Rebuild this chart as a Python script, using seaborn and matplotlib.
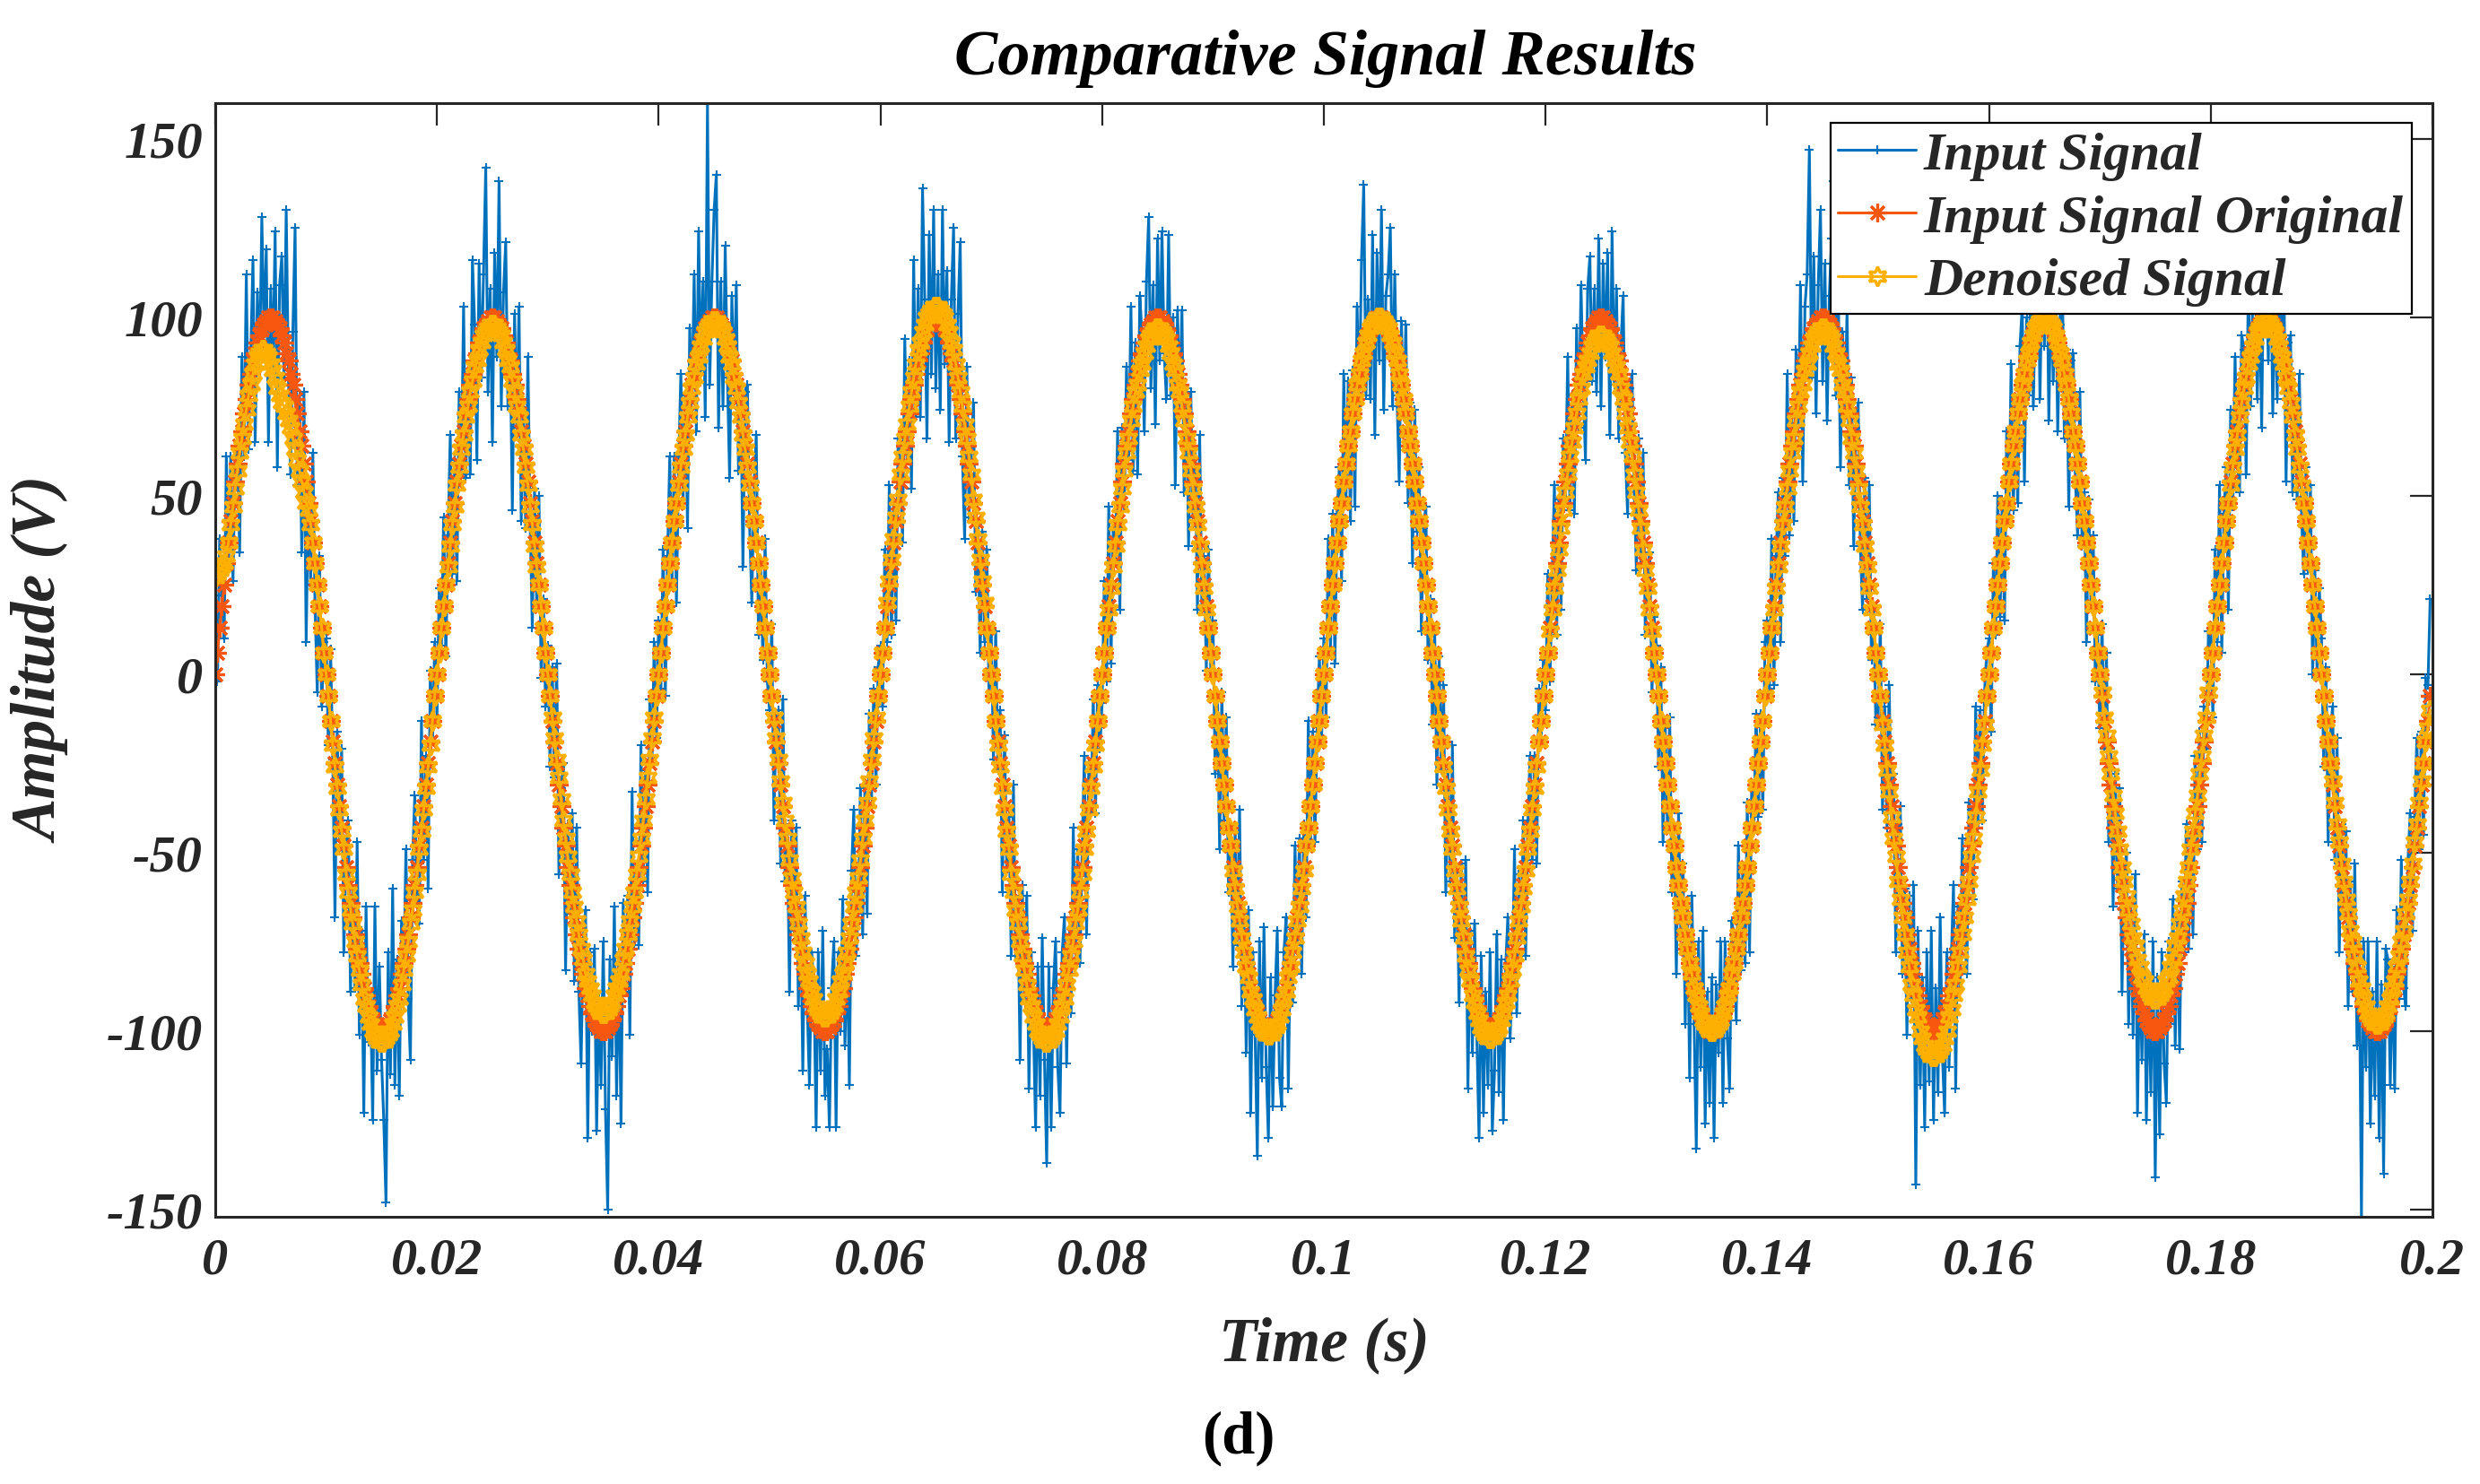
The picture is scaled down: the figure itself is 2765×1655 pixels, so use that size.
import numpy as np
import pandas as pd
import matplotlib
matplotlib.use("Agg")
import matplotlib.pyplot as plt
from matplotlib.font_manager import FontProperties
import seaborn as sns

# ---------------- data ----------------
sample_rate = 5000  # samples per second, 1000 samples shown (0 .. 0.1998 s)

input_signal = [
    12, -2, 38, 22, 10, 61, 31, 61, 26, 63, 63, 34, 89, 61, 112, 63, 90, 116, 65, 107, 86, 128, 95, 119, 65, 108, 86, 124, 58, 109, 117, 83, 130, 83, 56, 96, 125, 53, 78, 34, 79, 9, 53, 25, 62, 19, -5, 33, -9, 9,
    10, -20, 7, -24, -68, -16, -45, -21, -78, -49, -41, -89, -60, -88, -47, -101, -72, -123, -65, -103, -89, -125, -65, -111, -82, -108, -125, -148, -78, -112, -60, -115, -80, -118, -69, -86, -49, -91, -108, -52, -34, -64, -70, -13, -52, -23, -60, 1, -19, 9,
    -12, 24, 8, 44, 5, 39, 67, 28, 60, 26, 79, 56, 103, 55, 82, 56, 116, 98, 60, 115, 83, 112, 142, 79, 108, 65, 118, 89, 138, 75, 107, 121, 75, 93, 46, 101, 69, 103, 43, 74, 41, 89, 43, 13, 52, 19, 50, -1, 21, -9,
    8, -26, 2, -29, 3, -56, -32, -25, -83, -42, -67, -39, -86, -43, -89, -109, -74, -66, -130, -78, -100, -77, -128, -91, -115, -75, -122, -150, -80, -107, -65, -118, -78, -126, -64, -89, -62, -101, -33, -76, -54, -76, -20, -58, -27, -61, -7, -24, 9, -18,
    15, -4, 35, -6, 33, 61, 25, 61, 20, 59, 84, 49, 78, 41, 97, 76, 112, 68, 124, 85, 110, 72, 160, 81, 110, 130, 140, 69, 110, 75, 120, 83, 55, 106, 79, 109, 57, 81, 30, 79, 81, 42, 20, 53, 67, 11, 30, 4, 38, -2,
    -10, 14, -41, -11, -10, -53, -7, -58, -43, -89, -41, -72, -43, -93, -65, -111, -62, -93, -115, -78, -87, -127, -78, -111, -72, -118, -105, -127, -88, -75, -127, -78, -100, -63, -104, -76, -115, -55, -38, -79, -67, -32, -73, -31, -67, -11, -35, -4, -31, 2,
    8, -9, 35, 9, 53, 11, 49, 15, 66, 59, 37, 94, 60, 88, 52, 116, 72, 108, 72, 136, 105, 66, 123, 84, 130, 80, 112, 74, 130, 87, 113, 65, 105, 125, 66, 101, 121, 61, 38, 86, 44, 64, 76, 23, 42, 6, 40, 9, 35, -6,
    12, -24, 12, -27, -10, -61, -17, -55, -40, -79, -31, -79, -63, -108, -59, -91, -62, -116, -78, -98, -127, -82, -118, -74, -108, -137, -82, -127, -88, -75, -110, -123, -78, -68, -109, -73, -95, -43, -78, -49, -81, -49, -23, -73, -25, -39, -7, -39, -3, -21,
    -8, 26, -2, 47, 3, 41, 32, 68, 18, 69, 47, 86, 60, 103, 57, 93, 56, 106, 95, 68, 110, 128, 80, 109, 70, 122, 88, 124, 90, 77, 123, 78, 100, 53, 102, 76, 102, 51, 80, 36, 79, 44, 63, 18, 67, 19, 33, 1, 35, 1,
    15, -28, -5, -49, -5, -41, -12, -61, -43, -82, -44, -76, -38, -93, -67, -106, -66, -123, -78, -101, -135, -75, -113, -71, -110, -130, -85, -121, -90, -72, -113, -121, -78, -68, -116, -71, -92, -48, -76, -46, -84, -42, -68, -13, -47, -16, -47, -14, 5, -18,
    10, -12, 38, 7, 45, 3, 45, 58, 26, 84, 49, 82, 43, 85, 47, 103, 76, 116, 137, 78, 105, 77, 123, 67, 118, 88, 130, 74, 106, 112, 125, 75, 112, 78, 54, 99, 72, 98, 48, 76, 31, 74, 40, 58, 12, 41, 47, 4, 21, -14,
    12, -31, 5, -27, -3, -61, -27, -58, -20, -74, -54, -92, -53, -83, -52, -116, -72, -106, -70, -101, -130, -79, -123, -89, -115, -78, -128, -111, -73, -117, -80, -125, -82, -68, -102, -86, -49, -95, -56, -74, -41, -79, -43, -23, -52, -23, -53, -4, -18, 4,
    -10, 28, -2, 27, 53, 11, 49, 18, 66, 49, 89, 46, 78, 45, 97, 69, 109, 80, 60, 108, 117, 82, 108, 79, 122, 75, 115, 89, 118, 67, 124, 81, 108, 66, 92, 106, 62, 45, 80, 84, 51, 29, 66, 31, 62, 11, 30, 34, -5, 16,
    8, -26, 2, -47, -15, -43, -12, -61, -43, -84, -39, -72, -53, -98, -65, -113, -62, -98, -133, -75, -110, -72, -126, -89, -120, -85, -130, -87, -106, -75, -120, -75, -102, -116, -69, -73, -97, -48, -83, -54, -81, -36, -78, -31, -42, -11, -40, -11, -38, 9,
    15, -4, 38, -3, 33, 51, 9, 55, 33, 84, 39, 74, 43, 91, 69, 109, 54, 103, 112, 147, 83, 117, 73, 109, 130, 82, 115, 71, 106, 122, 138, 78, 110, 58, 96, 73, 102, 53, 83, 36, 69, 76, 36, 18, 55, 21, 53, 4, 18, -14,
    -12, 14, -38, -9, -43, -3, -45, -28, -78, -42, -37, -84, -60, -101, -62, -91, -59, -143, -72, -115, -85, -127, -78, -114, -72, -125, -88, -117, -68, -107, -123, -78, -110, -80, -59, -116, -65, -88, -46, -72, -84, -36, -38, -63, -9, -43, -10, -41, -5, 6,
    10, -16, 31, 11, 50, 16, 49, 15, 68, 44, 87, 46, 76, 48, 92, 103, 54, 100, 78, 118, 75, 107, 128, 77, 115, 92, 125, 71, 110, 82, 115, 68, 98, 116, 66, 91, 47, 88, 90, 54, 39, 79, 36, 51, 9, 49, 20, 39, -2, 11,
    -15, 14, -21, 6, -47, -21, -65, -28, -60, -32, -89, -56, -50, -98, -65, -101, -56, -123, -80, -108, -73, -125, -86, -117, -75, -141, -85, -129, -78, -109, -120, -75, -98, -63, -104, -69, -105, -58, -78, -42, -77, -46, -73, -23, -49, -16, -47, -9, -21, 12,
    12, -12, 35, 9, 53, 6, 45, 58, 18, 74, 47, 89, 60, 51, 95, 91, 56, 110, 75, 105, 120, 77, 106, 69, 122, 115, 88, 123, 73, 107, 77, 113, 82, 113, 54, 93, 95, 51, 76, 49, 84, 44, 28, 58, 29, 53, 0, 29, 1, 24,
    10, -26, 2, -47, -17, -9, -52, -18, -78, -42, -67, -44, -93, -58, -89, -53, -104, -78, -152, -75, -110, -75, -126, -89, -118, -75, -130, -87, -140, -77, -80, -115, -82, -116, -66, -91, -52, -88, -93, -52, -39, -72, -40, -18, -49, -16, -45, -1, -3, 21,
]

original_signal = [
    0, 6, 13, 19, 25, 31, 37, 43, 48, 54, 59, 64, 68, 73, 77, 81, 84, 88, 90, 93, 95, 97, 98, 99, 100, 100, 100, 99, 98, 97, 95, 93, 90, 88, 84, 81, 77, 73, 68, 64, 59, 54, 48, 43, 37, 31, 25, 19, 13, 6,
    0, -6, -13, -19, -25, -31, -37, -43, -48, -54, -59, -64, -68, -73, -77, -81, -84, -88, -90, -93, -95, -97, -98, -99, -100, -100, -100, -99, -98, -97, -95, -93, -90, -88, -84, -81, -77, -73, -68, -64, -59, -54, -48, -43, -37, -31, -25, -19, -13, -6,
    0, 6, 13, 19, 25, 31, 37, 43, 48, 54, 59, 64, 68, 73, 77, 81, 84, 88, 90, 93, 95, 97, 98, 99, 100, 100, 100, 99, 98, 97, 95, 93, 90, 88, 84, 81, 77, 73, 68, 64, 59, 54, 48, 43, 37, 31, 25, 19, 13, 6,
    0, -6, -13, -19, -25, -31, -37, -43, -48, -54, -59, -64, -68, -73, -77, -81, -84, -88, -90, -93, -95, -97, -98, -99, -100, -100, -100, -99, -98, -97, -95, -93, -90, -88, -84, -81, -77, -73, -68, -64, -59, -54, -48, -43, -37, -31, -25, -19, -13, -6,
    0, 6, 13, 19, 25, 31, 37, 43, 48, 54, 59, 64, 68, 73, 77, 81, 84, 88, 90, 93, 95, 97, 98, 99, 100, 100, 100, 99, 98, 97, 95, 93, 90, 88, 84, 81, 77, 73, 68, 64, 59, 54, 48, 43, 37, 31, 25, 19, 13, 6,
    0, -6, -13, -19, -25, -31, -37, -43, -48, -54, -59, -64, -68, -73, -77, -81, -84, -88, -90, -93, -95, -97, -98, -99, -100, -100, -100, -99, -98, -97, -95, -93, -90, -88, -84, -81, -77, -73, -68, -64, -59, -54, -48, -43, -37, -31, -25, -19, -13, -6,
    0, 6, 13, 19, 25, 31, 37, 43, 48, 54, 59, 64, 68, 73, 77, 81, 84, 88, 90, 93, 95, 97, 98, 99, 100, 100, 100, 99, 98, 97, 95, 93, 90, 88, 84, 81, 77, 73, 68, 64, 59, 54, 48, 43, 37, 31, 25, 19, 13, 6,
    0, -6, -13, -19, -25, -31, -37, -43, -48, -54, -59, -64, -68, -73, -77, -81, -84, -88, -90, -93, -95, -97, -98, -99, -100, -100, -100, -99, -98, -97, -95, -93, -90, -88, -84, -81, -77, -73, -68, -64, -59, -54, -48, -43, -37, -31, -25, -19, -13, -6,
    0, 6, 13, 19, 25, 31, 37, 43, 48, 54, 59, 64, 68, 73, 77, 81, 84, 88, 90, 93, 95, 97, 98, 99, 100, 100, 100, 99, 98, 97, 95, 93, 90, 88, 84, 81, 77, 73, 68, 64, 59, 54, 48, 43, 37, 31, 25, 19, 13, 6,
    0, -6, -13, -19, -25, -31, -37, -43, -48, -54, -59, -64, -68, -73, -77, -81, -84, -88, -90, -93, -95, -97, -98, -99, -100, -100, -100, -99, -98, -97, -95, -93, -90, -88, -84, -81, -77, -73, -68, -64, -59, -54, -48, -43, -37, -31, -25, -19, -13, -6,
    0, 6, 13, 19, 25, 31, 37, 43, 48, 54, 59, 64, 68, 73, 77, 81, 84, 88, 90, 93, 95, 97, 98, 99, 100, 100, 100, 99, 98, 97, 95, 93, 90, 88, 84, 81, 77, 73, 68, 64, 59, 54, 48, 43, 37, 31, 25, 19, 13, 6,
    0, -6, -13, -19, -25, -31, -37, -43, -48, -54, -59, -64, -68, -73, -77, -81, -84, -88, -90, -93, -95, -97, -98, -99, -100, -100, -100, -99, -98, -97, -95, -93, -90, -88, -84, -81, -77, -73, -68, -64, -59, -54, -48, -43, -37, -31, -25, -19, -13, -6,
    0, 6, 13, 19, 25, 31, 37, 43, 48, 54, 59, 64, 68, 73, 77, 81, 84, 88, 90, 93, 95, 97, 98, 99, 100, 100, 100, 99, 98, 97, 95, 93, 90, 88, 84, 81, 77, 73, 68, 64, 59, 54, 48, 43, 37, 31, 25, 19, 13, 6,
    0, -6, -13, -19, -25, -31, -37, -43, -48, -54, -59, -64, -68, -73, -77, -81, -84, -88, -90, -93, -95, -97, -98, -99, -100, -100, -100, -99, -98, -97, -95, -93, -90, -88, -84, -81, -77, -73, -68, -64, -59, -54, -48, -43, -37, -31, -25, -19, -13, -6,
    0, 6, 13, 19, 25, 31, 37, 43, 48, 54, 59, 64, 68, 73, 77, 81, 84, 88, 90, 93, 95, 97, 98, 99, 100, 100, 100, 99, 98, 97, 95, 93, 90, 88, 84, 81, 77, 73, 68, 64, 59, 54, 48, 43, 37, 31, 25, 19, 13, 6,
    0, -6, -13, -19, -25, -31, -37, -43, -48, -54, -59, -64, -68, -73, -77, -81, -84, -88, -90, -93, -95, -97, -98, -99, -100, -100, -100, -99, -98, -97, -95, -93, -90, -88, -84, -81, -77, -73, -68, -64, -59, -54, -48, -43, -37, -31, -25, -19, -13, -6,
    0, 6, 13, 19, 25, 31, 37, 43, 48, 54, 59, 64, 68, 73, 77, 81, 84, 88, 90, 93, 95, 97, 98, 99, 100, 100, 100, 99, 98, 97, 95, 93, 90, 88, 84, 81, 77, 73, 68, 64, 59, 54, 48, 43, 37, 31, 25, 19, 13, 6,
    0, -6, -13, -19, -25, -31, -37, -43, -48, -54, -59, -64, -68, -73, -77, -81, -84, -88, -90, -93, -95, -97, -98, -99, -100, -100, -100, -99, -98, -97, -95, -93, -90, -88, -84, -81, -77, -73, -68, -64, -59, -54, -48, -43, -37, -31, -25, -19, -13, -6,
    0, 6, 13, 19, 25, 31, 37, 43, 48, 54, 59, 64, 68, 73, 77, 81, 84, 88, 90, 93, 95, 97, 98, 99, 100, 100, 100, 99, 98, 97, 95, 93, 90, 88, 84, 81, 77, 73, 68, 64, 59, 54, 48, 43, 37, 31, 25, 19, 13, 6,
    0, -6, -13, -19, -25, -31, -37, -43, -48, -54, -59, -64, -68, -73, -77, -81, -84, -88, -90, -93, -95, -97, -98, -99, -100, -100, -100, -99, -98, -97, -95, -93, -90, -88, -84, -81, -77, -73, -68, -64, -59, -54, -48, -43, -37, -31, -25, -19, -13, -6,
]

denoised_signal = [
    27, 28, 29, 30, 31, 33, 37, 42, 47, 52, 57, 62, 66, 70, 74, 78, 81, 84, 87, 89, 90, 91, 91, 90, 89, 87, 85, 83, 80, 78, 76, 75, 73, 71, 69, 66, 63, 60, 57, 54, 51, 48, 46, 42, 37, 31, 25, 19, 13, 6,
    0, -6, -13, -20, -26, -32, -38, -44, -49, -56, -61, -66, -70, -75, -79, -83, -87, -91, -93, -96, -98, -100, -101, -102, -103, -103, -103, -102, -101, -100, -98, -96, -93, -91, -87, -83, -79, -75, -70, -66, -61, -56, -49, -44, -38, -32, -26, -20, -13, -6,
    0, 6, 13, 19, 25, 30, 36, 42, 47, 53, 58, 63, 67, 72, 75, 79, 82, 86, 88, 91, 93, 95, 96, 97, 98, 98, 98, 97, 96, 95, 93, 91, 88, 86, 82, 79, 75, 72, 67, 63, 58, 53, 47, 42, 36, 30, 25, 19, 13, 6,
    0, -6, -12, -18, -24, -29, -35, -41, -46, -51, -56, -61, -65, -69, -73, -77, -80, -84, -86, -88, -90, -92, -93, -94, -95, -95, -95, -94, -93, -92, -90, -88, -86, -84, -80, -77, -73, -69, -65, -61, -56, -51, -46, -41, -35, -29, -24, -18, -12, -6,
    0, 6, 13, 19, 25, 31, 37, 43, 48, 53, 58, 63, 67, 72, 76, 80, 83, 87, 89, 92, 94, 96, 97, 98, 99, 99, 99, 98, 97, 96, 94, 92, 89, 87, 83, 80, 76, 72, 67, 63, 58, 53, 48, 43, 37, 31, 25, 19, 13, 6,
    0, -6, -12, -18, -24, -30, -36, -41, -46, -52, -57, -61, -65, -70, -74, -78, -81, -84, -86, -89, -91, -93, -94, -95, -96, -96, -96, -95, -94, -93, -91, -89, -86, -84, -81, -78, -74, -70, -65, -61, -57, -52, -46, -41, -36, -30, -24, -18, -12, -6,
    0, 6, 13, 20, 26, 32, 38, 44, 49, 56, 61, 66, 70, 75, 79, 83, 87, 91, 93, 96, 98, 100, 101, 102, 103, 103, 103, 102, 101, 100, 98, 96, 93, 91, 87, 83, 79, 75, 70, 66, 61, 56, 49, 44, 38, 32, 26, 20, 13, 6,
    0, -6, -13, -20, -26, -32, -38, -44, -49, -56, -61, -66, -70, -75, -79, -83, -87, -91, -93, -96, -98, -100, -101, -102, -103, -103, -103, -102, -101, -100, -98, -96, -93, -91, -87, -83, -79, -75, -70, -66, -61, -56, -49, -44, -38, -32, -26, -20, -13, -6,
    0, 6, 13, 18, 24, 30, 36, 42, 47, 52, 57, 62, 66, 71, 75, 79, 81, 85, 87, 90, 92, 94, 95, 96, 97, 97, 97, 96, 95, 94, 92, 90, 87, 85, 81, 79, 75, 71, 66, 62, 57, 52, 47, 42, 36, 30, 24, 18, 13, 6,
    0, -6, -13, -19, -25, -31, -37, -43, -48, -55, -60, -65, -69, -74, -78, -82, -85, -89, -91, -94, -96, -98, -99, -100, -101, -101, -101, -100, -99, -98, -96, -94, -91, -89, -85, -82, -78, -74, -69, -65, -60, -55, -48, -43, -37, -31, -25, -19, -13, -6,
    0, 6, 13, 19, 25, 31, 37, 43, 48, 54, 59, 64, 68, 73, 77, 81, 84, 88, 90, 93, 95, 97, 98, 99, 100, 100, 100, 99, 98, 97, 95, 93, 90, 88, 84, 81, 77, 73, 68, 64, 59, 54, 48, 43, 37, 31, 25, 19, 13, 6,
    0, -6, -13, -19, -26, -32, -38, -44, -49, -55, -60, -65, -69, -74, -79, -83, -86, -90, -92, -95, -97, -99, -100, -101, -102, -102, -102, -101, -100, -99, -97, -95, -92, -90, -86, -83, -79, -74, -69, -65, -60, -55, -49, -44, -38, -32, -26, -19, -13, -6,
    0, 6, 12, 18, 24, 29, 35, 41, 46, 51, 56, 61, 65, 69, 73, 77, 80, 84, 86, 88, 90, 92, 93, 94, 95, 95, 95, 94, 93, 92, 90, 88, 86, 84, 80, 77, 73, 69, 65, 61, 56, 51, 46, 41, 35, 29, 24, 18, 12, 6,
    0, -6, -13, -19, -25, -31, -37, -43, -48, -54, -59, -64, -68, -73, -77, -81, -84, -88, -90, -93, -95, -97, -98, -99, -100, -100, -100, -99, -98, -97, -95, -93, -90, -88, -84, -81, -77, -73, -68, -64, -59, -54, -48, -43, -37, -31, -25, -19, -13, -6,
    0, 6, 13, 18, 24, 30, 36, 42, 47, 52, 57, 62, 66, 71, 75, 79, 81, 85, 87, 90, 92, 94, 95, 96, 97, 97, 97, 96, 95, 94, 92, 90, 87, 85, 81, 79, 75, 71, 66, 62, 57, 52, 47, 42, 36, 30, 24, 18, 13, 6,
    0, -6, -14, -20, -27, -33, -40, -46, -51, -58, -63, -68, -73, -78, -82, -87, -90, -94, -96, -100, -102, -104, -105, -106, -107, -107, -107, -106, -105, -104, -102, -100, -96, -94, -90, -87, -82, -78, -73, -68, -63, -58, -51, -46, -40, -33, -27, -20, -14, -6,
    0, 6, 13, 19, 25, 31, 37, 43, 48, 54, 59, 64, 68, 73, 77, 81, 84, 88, 90, 93, 95, 97, 98, 99, 100, 100, 100, 99, 98, 97, 95, 93, 90, 88, 84, 81, 77, 73, 68, 64, 59, 54, 48, 43, 37, 31, 25, 19, 13, 6,
    0, -5, -12, -17, -23, -28, -34, -39, -44, -49, -54, -58, -62, -66, -70, -74, -76, -80, -82, -85, -86, -88, -89, -90, -91, -91, -91, -90, -89, -88, -86, -85, -82, -80, -76, -74, -70, -66, -62, -58, -54, -49, -44, -39, -34, -28, -23, -17, -12, -5,
    0, 6, 13, 19, 25, 31, 37, 43, 48, 53, 58, 63, 67, 72, 76, 80, 83, 87, 89, 92, 94, 96, 97, 98, 99, 99, 99, 98, 97, 96, 94, 92, 89, 87, 83, 80, 76, 72, 67, 63, 58, 53, 48, 43, 37, 31, 25, 19, 13, 6,
    0, -6, -13, -19, -25, -30, -36, -42, -47, -53, -58, -63, -67, -72, -75, -79, -82, -86, -88, -91, -93, -95, -96, -97, -98, -98, -98, -97, -96, -95, -93, -91, -88, -86, -82, -79, -75, -72, -67, -63, -58, -53, -47, -42, -36, -30, -25, -19, -15, -10,
]

series_names = ["Input Signal", "Input Signal Original", "Denoised Signal"]
x_ticks = [0, 0.02, 0.04, 0.06, 0.08, 0.1, 0.12, 0.14, 0.16, 0.18, 0.2]
x_tick_labels = ["0", "0.02", "0.04", "0.06", "0.08", "0.1", "0.12", "0.14", "0.16", "0.18", "0.2"]
y_ticks = [-150, -100, -50, 0, 50, 100, 150]
y_tick_labels = ["-150", "-100", "-50", "0", "50", "100", "150"]

# ---------------- styling ----------------
blue = "#0072BD"
red = "#F7570F"
yellow = "#FDB002"
axis_color = "#262626"

sns.set_style("white")
plt.rcParams["font.family"] = ["Liberation Serif", "DejaVu Serif"]
plt.rcParams["font.style"] = "italic"
plt.rcParams["font.weight"] = "bold"
plt.rcParams["axes.labelweight"] = "bold"

n = len(original_signal)
df = pd.DataFrame({
    "Time": np.arange(n) / sample_rate,
    "input": input_signal[:n],
    "original": original_signal,
    "denoised": denoised_signal[:n],
})

fig = plt.figure(figsize=(27.65, 16.56), dpi=100)
ax = fig.add_axes([0.0868, 0.180, 0.8940, 0.750])

sns.lineplot(data=df, x="Time", y="input", ax=ax, estimator=None, sort=False,
             color=blue, linewidth=2.2, marker="+", markersize=7,
             markeredgewidth=1.5, markeredgecolor=blue, label=series_names[0])
sns.lineplot(data=df, x="Time", y="original", ax=ax, estimator=None, sort=False,
             color=red, linewidth=2.2, marker=(8, 2, 0), markersize=15,
             markeredgewidth=2.3, markeredgecolor=red, label=series_names[1])
sns.lineplot(data=df, x="Time", y="denoised", ax=ax, estimator=None, sort=False,
             color=yellow, linewidth=2.2, marker=(6, 1, 0), markersize=15.5,
             markeredgewidth=2.5, markeredgecolor=yellow, markerfacecolor="none",
             label=series_names[2])

ax.set_xlim(0, 0.2)
ax.set_ylim(min(input_signal), max(input_signal))
ax.set_xticks(x_ticks)
ax.set_xticklabels(x_tick_labels)
ax.set_yticks(y_ticks)
ax.set_yticklabels(y_tick_labels)
ax.tick_params(axis="both", direction="in", length=18, width=1.6, colors=axis_color,
               top=True, right=True, labelsize=42)
ax.tick_params(axis="x", pad=16)
ax.tick_params(axis="y", pad=10)
for lbl in ax.get_xticklabels() + ax.get_yticklabels():
    lbl.set_fontweight("bold")
    lbl.set_fontstyle("italic")
for sp in ax.spines.values():
    sp.set_visible(True)
    sp.set_color(axis_color)
    sp.set_linewidth(2.2)
ax.grid(False)

ax.set_xlabel("Time (s)", fontsize=50, color=axis_color, fontweight="bold", fontstyle="italic")
ax.xaxis.set_label_coords(0.5, -0.089)
ax.set_ylabel("Amplitude (V)", fontsize=50, color=axis_color, fontweight="bold", fontstyle="italic")
ax.yaxis.set_label_coords(-0.065, 0.5)

fig.text(0.5345, 0.9607, "Comparative Signal Results", ha="center", va="center",
         fontsize=52, color="black", fontweight="bold", fontstyle="italic")
fig.text(0.4995, 0.031, "(d)", ha="center", va="center", fontsize=48,
         fontstyle="normal", fontweight="bold", color="black")

leg = ax.legend(loc="upper right", bbox_to_anchor=(2689 / 2765, 1 - 138 / 1656),
                bbox_transform=fig.transFigure, borderaxespad=0,
                prop=FontProperties(family=["Liberation Serif", "DejaVu Serif"],
                                    style="italic", weight="bold", size=43),
                frameon=True, fancybox=False, framealpha=1, edgecolor="black",
                borderpad=0.15, labelspacing=0.26, handlelength=1.45,
                handletextpad=0.15, numpoints=1)
leg.get_frame().set_linewidth(1.6)

fig.savefig("out.png", dpi=100)
